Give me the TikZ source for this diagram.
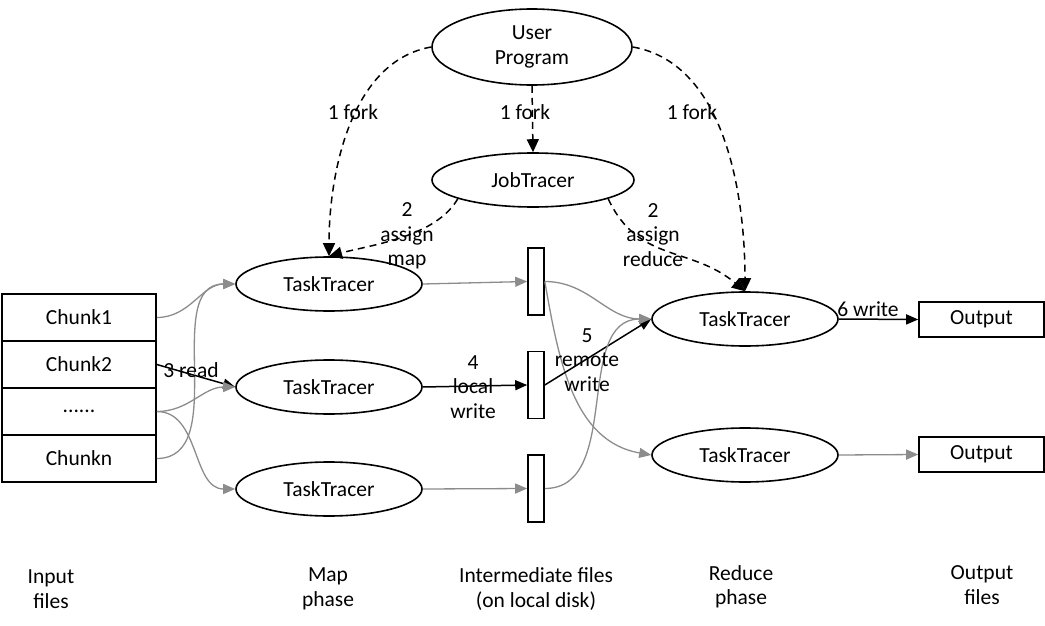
\documentclass[tikz,border=0pt]{standalone}
\usepackage{fontspec}
\setmainfont{Carlito}
\usetikzlibrary{shapes.geometric,arrows.meta}
\definecolor{flowGray}{HTML}{8C8C8C}

\begin{document}
\begin{tikzpicture}[x=1pt, y=-1pt, font=\fontsize{21.5}{24.5}\selectfont,
    tracer/.style={ellipse, draw, line width=1.6pt, minimum width=186, minimum height=54, inner sep=0pt},
    chunkbox/.style={rectangle, draw, line width=1.6pt, minimum width=154, minimum height=47},
    interbox/.style={rectangle, draw, line width=1.6pt, minimum width=16, minimum height=67},
    outbox/.style={rectangle, draw, line width=1.6pt, minimum width=125, minimum height=35},
    lbl/.style={align=center, inner sep=0pt},
    gflow/.style={draw=flowGray, line width=1.3pt, -{Triangle[length=12pt,width=10pt]}, flowGray},
    bflow/.style={draw=black, line width=1.5pt, -{Triangle[length=12pt,width=10pt]}},
    dflow/.style={draw=black, line width=1.5pt, dash pattern=on 7pt off 5pt, -{Triangle[length=13pt,width=12pt]}}]
  \useasboundingbox (0,0) rectangle (1045,626);

  \node[tracer, minimum width=200, minimum height=76, lbl] (user) at (532,47) {User\\Program};
  \node[tracer, minimum width=202] (job) at (533,180) {JobTracer};
  \node[tracer] (map1) at (329,284) {TaskTracer};
  \node[tracer] (map2) at (329,387) {TaskTracer};
  \node[tracer] (map3) at (329,489) {TaskTracer};
  \node[tracer] (red1) at (745,319) {TaskTracer};
  \node[tracer] (red2) at (745,455) {TaskTracer};

  \node[chunkbox] (c1) at (79,317.5) {Chunk1};
  \node[chunkbox] (c2) at (79,364.5) {Chunk2};
  \node[chunkbox] (c3) at (79,411.5) {......};
  \node[chunkbox] (cn) at (79,458.5) {Chunkn};

  \node[interbox] (f1) at (536,281.5) {};
  \node[interbox] (f2) at (536,385) {};
  \node[interbox] (f3) at (536,488.5) {};

  \node[outbox] (out1) at (981.5,319.5) {Output};
  \node[outbox] (out2) at (981.5,454.5) {Output};

  \draw[dflow] (user.west) to[out=190, in=90, looseness=0.9] (map1.north);
  \draw[dflow] (user.south) -- (job.north);
  \draw[dflow] (user.east) to[out=-10, in=90, looseness=0.9] (red1.north);
  \draw[dflow] (job.194) to[out=240, in=15, looseness=0.8] (map1.north);
  \draw[dflow] (job.-14) to[out=-65, in=140, looseness=1.1] (red1.north);

  \draw[gflow] (c1.east) to[out=0, in=180] (map1.west);
  \draw[bflow] (c2.east) -- (map2.west);
  \draw[gflow] (c3.east) to[out=0, in=180] (map2.west);
  \draw[gflow] (c3.east) to[out=0, in=180] (map3.west);
  \draw[gflow] (cn.east) to[out=0, in=180] (map1.west);

  \draw[gflow] (map1.east) -- (f1.west);
  \draw[bflow] (map2.east) -- (f2.west);
  \draw[gflow] (map3.east) -- (f3.west);

  \draw[gflow] (f1.east) to[out=0, in=180] (red1.west);
  \draw[gflow] (f1.east) to[out=-80, in=170] (red2.west);
  \draw[bflow] (f2.east) -- (red1.west);
  \draw[gflow] (f3.east) to[out=0, in=180] (red1.west);

  \draw[bflow] (red1.east) -- (out1.west);
  \draw[gflow] (red2.east) -- (out2.west);

  \node[lbl] (fork1) at (353,112) {1 fork};
  \node[lbl] (fork2) at (525,112) {1 fork};
  \node[lbl] (fork3) at (692,112) {1 fork};
  \node[lbl] (amap) at (407,236) {2\\assign\\map};
  \node[lbl] (ared) at (653,235) {2\\assign\\reduce};
  \node[lbl] (read) at (191,370) {3 read};
  \node[lbl] (lwrite) at (473,387) {4\\local\\write};
  \node[lbl] (rwrite) at (587,360) {5\\remote\\write};
  \node[lbl] (owrite) at (868,309) {6 write};

  \node[lbl] (tin) at (51,589) {Input\\files};
  \node[lbl] (tmap) at (328,589) {Map\\phase};
  \node[lbl] (tinter) at (536,589) {Intermediate files\\(on local disk)};
  \node[lbl] (tred) at (741,587) {Reduce\\phase};
  \node[lbl] (tout) at (982,585) {Output\\files};
\end{tikzpicture}
\end{document}
